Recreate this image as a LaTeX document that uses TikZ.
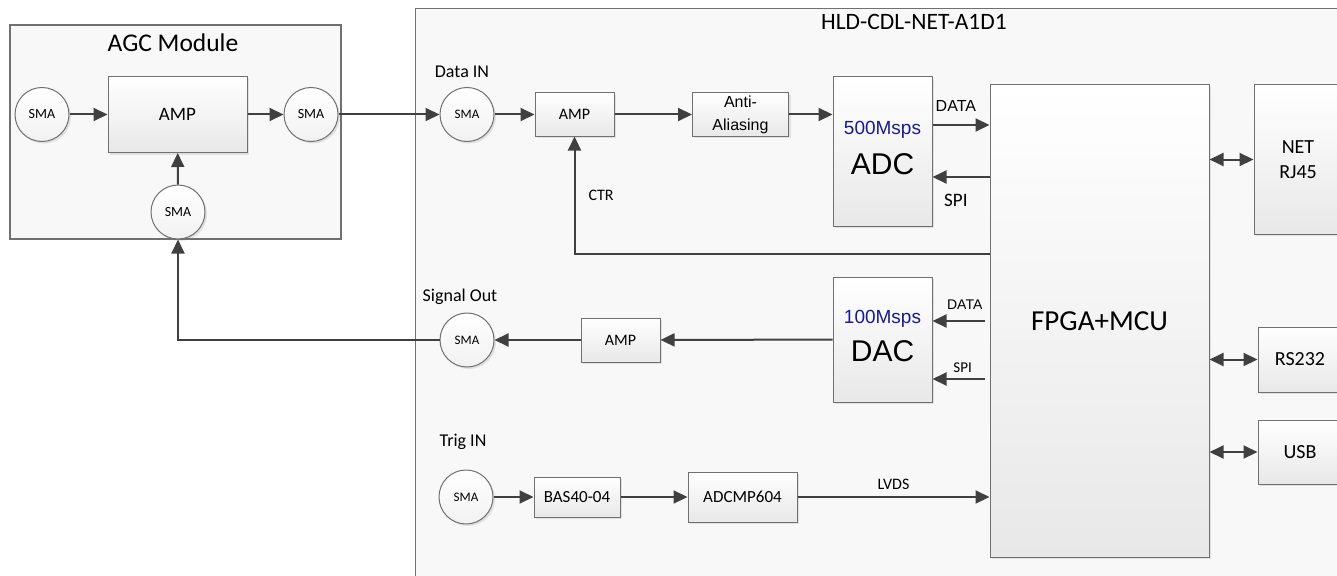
\documentclass[tikz,border=0pt]{standalone}
\usepackage{fontspec}
\setmainfont{Carlito}
\newfontfamily\arialf{Liberation Sans}
\usetikzlibrary{calc,arrows.meta,shadows}
\definecolor{linegray}{RGB}{64,64,64}
\definecolor{boxgray}{RGB}{112,112,112}
\definecolor{boxfill}{RGB}{232,232,232}
\definecolor{panelfill}{RGB}{248,248,248}
\definecolor{rateblue}{RGB}{26,26,140}
\newcommand{\fsz}[1]{\fontsize{#1}{#1}\selectfont}
\tikzset{
  frame/.style={draw=boxgray,line width=1.2pt,fill=panelfill,inner sep=0pt},
  blk/.style 2 args={draw=boxgray,line width=1pt,top color=white,bottom color=boxfill,
    drop shadow={shadow xshift=2pt,shadow yshift=-2pt,opacity=.2},
    minimum width=#1pt,minimum height=#2pt,inner sep=0pt,align=center,font=\fsz{16}},
  sma/.style={circle,draw=boxgray,line width=1pt,top color=white,bottom color=boxfill!60!white,
    drop shadow={shadow xshift=2pt,shadow yshift=-2pt,opacity=.2},
    minimum size=54pt,inner sep=0pt,font=\fsz{13}},
  wire/.style={draw=linegray,line width=2pt},
  sig/.style={wire,-{Triangle[length=14pt,width=13pt]}},
  bus/.style={wire,{Triangle[length=14pt,width=13pt]}-{Triangle[length=14pt,width=13pt]}},
  lab/.style={inner sep=2pt,font=\fsz{18}},
}
\begin{document}
\begin{tikzpicture}[x=1pt,y=-1pt]
  \useasboundingbox (0,0) rectangle (1337,575);
  \clip (0,0) rectangle (1337,575);
  % frames
  \node[frame,minimum width=331pt,minimum height=214pt] (agc) at (175.5,132) {};
  \node[frame,anchor=north west,minimum width=1000pt,minimum height=700pt] (hld) at (415,8) {};
  \node[lab,font=\fsz{25.5}] (agcT) at (173,43) {AGC Module};
  \node[lab,font=\fsz{23.5}] (hldT) at (914,22) {HLD-CDL-NET-A1D1};

  % AGC module
  \node[sma,font=\fsz{14}] (smaA) at (42,114.5) {SMA};
  \node[blk={139}{76},font=\fsz{19}] (ampA) at (177.5,114.5) {AMP};
  \node[sma,font=\fsz{14}] (smaB) at (311,114.5) {SMA};
  \node[sma,font=\fsz{14}] (smaC) at (178,212) {SMA};
  \draw[sig] (smaA) -- (ampA);
  \draw[sig] (ampA) -- (smaB);
  \draw[sig] (smaC) -- (ampA);

  % receive chain
  \node[lab] (inT) at (462,72) {Data IN};
  \node[sma] (smaIn) at (467,114.5) {SMA};
  \node[blk={79}{43}] (amp1) at (574.5,114.5) {AMP};
  \node[blk={96}{43},font=\arialf\fontsize{16}{23}\selectfont] (aa) at (740.5,114.5) {Anti-\\Aliasing};
  \node[blk={99}{149}] (adc) at (882.5,151.5)
    {{\arialf\fsz{19}\color{rateblue}500Msps}\\[14pt]{\arialf\fsz{30}ADC\rule[-8pt]{0pt}{8pt}}};
  \node[blk={219}{472},font=\fsz{29}] (fpga) at (1099.5,321) {FPGA+MCU};
  \draw[sig] (smaB) -- (smaIn);
  \draw[sig] (smaIn) -- (amp1);
  \draw[sig] (amp1) -- (aa);
  \draw[sig] (aa) -- (aa -| adc.west);
  \draw[sig] (adc.east |- 0,125) -- node[pos=.41,above=12pt,inner sep=0pt,font=\arialf\fsz{16}]{DATA} (fpga.west |- 0,125);
  \draw[sig] (fpga.west |- 0,177) -- node[pos=.59,below=16pt,inner sep=0pt,font=\fsz{19}]{SPI} (adc.east |- 0,177);
  \draw[sig] (fpga.west |- 0,254) -| node[pos=.75,right=13pt,inner sep=0pt,font=\fsz{16}]{CTR} (amp1);

  % transmit chain
  \node[blk={99}{125}] (dac) at (882.5,339.5)
    {{\arialf\fsz{19}\color{rateblue}100Msps}\\[12pt]{\arialf\fsz{30}DAC\rule[-8pt]{0pt}{8pt}}};
  \node[blk={79}{44}] (amp2) at (620.5,340) {AMP};
  \node[sma] (smaOut) at (467,340) {SMA};
  \node[lab] (outT) at (460,297) {Signal Out};
  \draw[sig] ($(fpga.west |- 0,321)+(-5,0)$) -- node[pos=.38,above=11pt,inner sep=0pt,font=\arialf\fsz{14}]{DATA} (dac.east |- 0,321);
  \draw[sig] ($(fpga.west |- 0,379)+(-5,0)$) -- node[pos=.42,above=5pt,inner sep=0pt,font=\fsz{15}]{SPI} (dac.east |- 0,379);
  \draw[sig] (dac) -- (amp2);
  \draw[sig] (amp2) -- (smaOut);
  \draw[sig] (smaOut) -| (smaC);

  % trigger chain
  \node[lab] (trigT) at (463,442) {Trig IN};
  \node[sma] (smaTrig) at (466,497) {SMA};
  \node[blk={86}{40},font=\fsz{17}] (bas) at (577,497) {BAS40-04};
  \node[blk={109}{50},font=\fsz{17}] (cmp) at (742.5,497) {ADCMP604};
  \draw[sig] (smaTrig) -- (bas);
  \draw[sig] (bas) -- (cmp);
  \draw[sig] (cmp) -- node[above=6pt,inner sep=0pt,font=\fsz{16}]{LVDS} (cmp -| fpga.west);

  % interfaces
  \node[blk={88}{149},font=\fontsize{20}{25}\selectfont] (net) at (1298,159.5) {NET\\RJ45};
  \node[blk={84}{65},font=\fsz{20}] (rs) at (1300,359.5) {RS232};
  \node[blk={84}{64},font=\fsz{20}] (usb) at (1300,452) {USB};
  \draw[bus] (fpga.east |- net) -- (net);
  \draw[bus] (fpga.east |- rs) -- (rs);
  \draw[bus] (fpga.east |- usb) -- (usb);
\end{tikzpicture}
\end{document}
